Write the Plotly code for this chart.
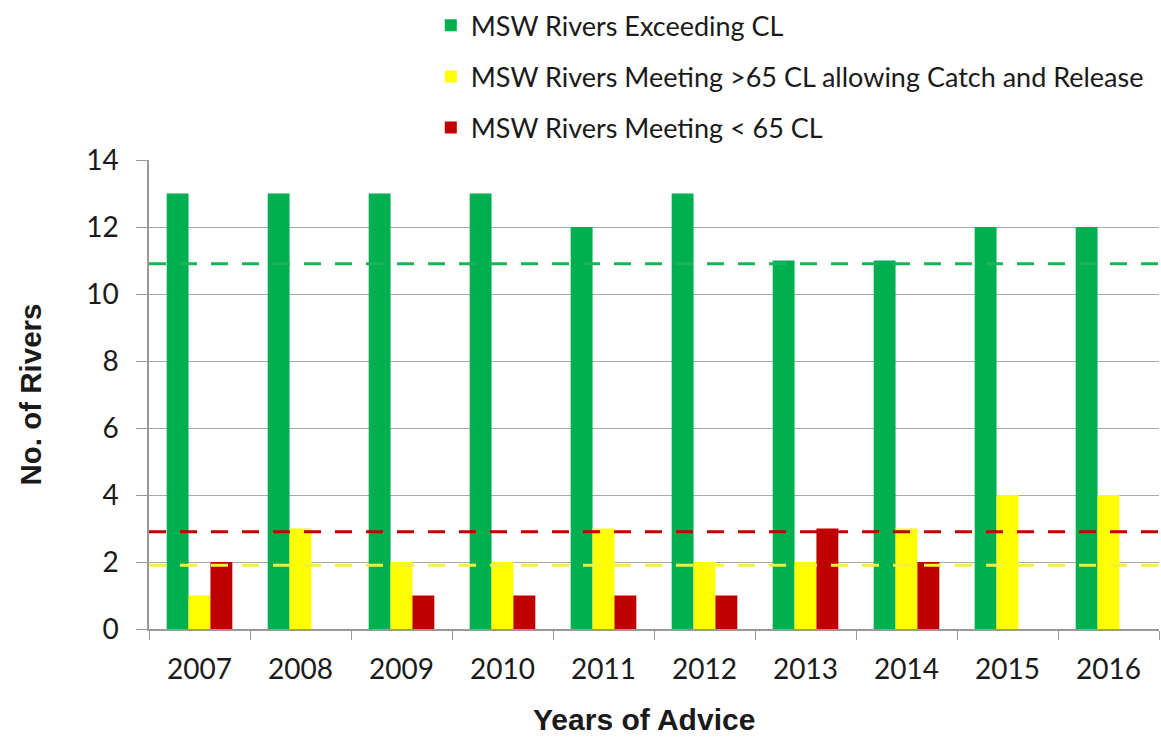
import plotly.graph_objects as go

years = ["2007", "2008", "2009", "2010", "2011", "2012", "2013", "2014", "2015", "2016"]
exceeding = [13, 13, 13, 13, 12, 13, 11, 11, 12, 12]
meeting_cr = [1, 3, 2, 2, 3, 2, 2, 3, 4, 4]
meeting_low = [2, 0, 1, 1, 1, 1, 3, 2, 0, 0]
series_names = ["MSW Rivers Exceeding CL",
                "MSW Rivers Meeting >65 CL allowing Catch and Release",
                "MSW Rivers Meeting < 65 CL"]
ref_levels = [10.9, 1.9, 2.9]  # green, yellow, red dashed reference lines
x_title = "Years of Advice"
y_title = "No. of Rivers"

colors = ["#00B050", "#FFFF00", "#C00000"]
line_colors = ["#1DB35A", "#F2F23A", "#C00000"]

fig = go.Figure()
for i, (name, vals) in enumerate(zip(series_names, [exceeding, meeting_cr, meeting_low])):
    fig.add_trace(go.Bar(x=years, y=vals, name=name, marker_color=colors[i],
                         marker_line_width=0, legendgroup=f"g{i}"))

for lvl, c in zip(ref_levels, line_colors):
    fig.add_shape(type="line", xref="paper", x0=0, x1=1, yref="y", y0=lvl, y1=lvl,
                  line=dict(color=c, width=3, dash="17px,14px"), layer="above")

fig.add_annotation(text=f"<b>{x_title}</b>", xref="paper", yref="paper",
                   x=0.49, y=-0.192, xanchor="center", yanchor="middle", showarrow=False,
                   font=dict(family="Liberation Sans, Arial", size=30, color="#1a1a1a"))

fig.update_layout(
    width=1161, height=738,
    margin=dict(l=149, r=2, t=160, b=109, autoexpand=False),
    paper_bgcolor="white", plot_bgcolor="white",
    barmode="group", bargap=0.35, bargroupgap=0,
    font=dict(family="Lato, Open Sans, sans-serif", color="#1a1a1a"),
    legend=dict(x=0.279, y=1.3385, xanchor="left", yanchor="top",
                font=dict(size=27, color="#1a1a1a"), tracegroupgap=13,
                itemwidth=30, bgcolor="rgba(0,0,0,0)"),
    showlegend=True,
)
fig.update_xaxes(
    showline=True, linecolor="#999999", linewidth=1.5,
    ticks="outside", tickson="boundaries", ticklen=9, tickcolor="#999999",
    tickfont=dict(size=28, color="#1a1a1a"), ticklabelstandoff=15,
)
fig.update_yaxes(
    range=[0, 14], dtick=2, showgrid=True, gridcolor="#aaaaaa", gridwidth=1.2,
    showline=True, linecolor="#999999", linewidth=1.5,
    ticks="outside", ticklen=11, tickcolor="#999999",
    tickfont=dict(size=28, color="#1a1a1a"), ticklabelstandoff=12,
    zeroline=False,
    title=dict(text=f"<b>{y_title}</b>",
               font=dict(family="Liberation Sans, Arial", size=29.5, color="#1a1a1a"), standoff=36),
)
fig.write_html("out.html", config={"displayModeBar": False},
               post_script="document.body.style.margin='0';document.body.style.padding='0';")
